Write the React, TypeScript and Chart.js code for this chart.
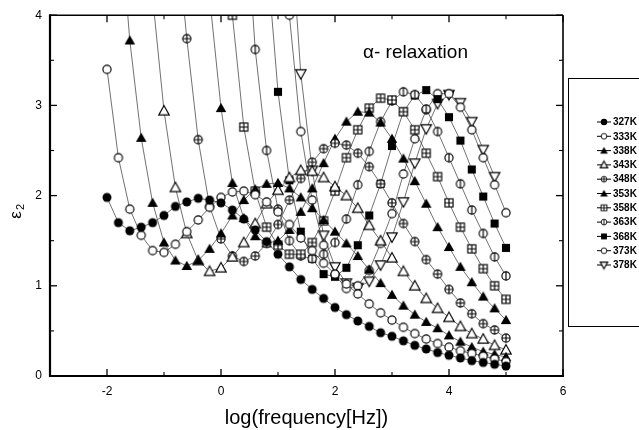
import React, { useEffect, useRef } from 'react';
import { Chart, registerables } from 'chart.js';

Chart.register(...registerables);

// log(frequency[Hz]) sampling points
const logFreq = [
  -2, -1.8, -1.6, -1.4, -1.2, -1.0, -0.8, -0.6, -0.4, -0.2,
  0, 0.2, 0.4, 0.6, 0.8, 1.0, 1.2, 1.4, 1.6, 1.8,
  2.0, 2.2, 2.4, 2.6, 2.8, 3.0, 3.2, 3.4, 3.6, 3.8,
  4.0, 4.2, 4.4, 4.6, 4.8, 5.0,
];

const N = null;
const e327 = [1.98, 1.70, 1.61, 1.65, 1.70, 1.78, 1.88, 1.93, 1.97, 1.95, 1.92, 1.84, 1.74, 1.62, 1.49, 1.35, 1.21, 1.07, 0.96, 0.86, 0.76, 0.68, 0.61, 0.55, 0.48, 0.44, 0.39, 0.34, 0.30, 0.26, 0.23, 0.20, 0.17, 0.15, 0.13, 0.11];
const e333 = [3.40, 2.42, 1.85, 1.56, 1.39, 1.37, 1.46, 1.60, 1.73, 1.87, 1.98, 2.04, 2.05, 2.01, 1.93, 1.82, 1.68, 1.53, 1.39, 1.25, 1.13, 1.02, 0.91, 0.80, 0.70, 0.62, 0.54, 0.47, 0.41, 0.36, 0.32, 0.28, 0.25, 0.22, 0.19, 0.16];
const e338 = [N, 5.3, 3.72, 2.64, 1.92, 1.48, 1.28, 1.22, 1.28, 1.41, 1.58, 1.78, 1.95, 2.07, 2.13, 2.14, 2.08, 1.98, 1.86, 1.73, 1.60, 1.47, 1.33, 1.18, 1.03, 0.90, 0.78, 0.68, 0.60, 0.53, 0.45, 0.38, 0.32, 0.27, 0.24, 0.21];
const e343 = [N, N, N, N, 4.2, 2.94, 2.09, 1.58, 1.28, 1.16, 1.20, 1.32, 1.48, 1.69, 1.91, 2.06, 2.20, 2.28, 2.27, 2.20, 2.10, 2.00, 1.86, 1.67, 1.50, 1.31, 1.16, 1.00, 0.86, 0.75, 0.65, 0.55, 0.47, 0.41, 0.34, 0.29];
const e348 = [N, N, N, N, N, N, 5.05, 3.74, 2.62, 1.88, 1.52, 1.33, 1.27, 1.33, 1.47, 1.68, 1.95, 2.19, 2.37, 2.52, 2.58, 2.56, 2.47, 2.32, 2.13, 1.92, 1.69, 1.49, 1.29, 1.13, 0.96, 0.81, 0.69, 0.58, 0.51, 0.42];
const e353 = [N, N, N, N, N, N, N, N, N, 4.2, 2.97, 2.14, 1.75, 1.55, 1.47, 1.50, 1.62, 1.82, 2.08, 2.36, 2.63, 2.82, 2.93, 2.92, 2.81, 2.63, 2.41, 2.16, 1.91, 1.65, 1.43, 1.21, 1.04, 0.88, 0.75, 0.62];
const e358 = [N, N, N, N, N, N, N, N, N, N, 6.0, 4.0, 2.76, 2.05, 1.65, 1.45, 1.35, 1.35, 1.48, 1.72, 2.05, 2.42, 2.73, 2.97, 3.08, 3.06, 2.93, 2.73, 2.47, 2.21, 1.92, 1.65, 1.41, 1.19, 1.00, 0.85];
const e363 = [N, N, N, N, N, N, N, N, N, N, N, N, 5.5, 3.62, 2.50, 1.85, 1.50, 1.33, 1.30, 1.35, 1.48, 1.74, 2.12, 2.49, 2.82, 3.05, 3.15, 3.12, 2.96, 2.71, 2.42, 2.13, 1.84, 1.58, 1.32, 1.11];
const e368 = [N, N, N, N, N, N, N, N, N, N, N, N, N, N, 4.7, 3.15, 2.17, 1.60, 1.30, 1.13, 1.10, 1.20, 1.45, 1.78, 2.13, 2.55, 2.93, 3.11, 3.17, 3.07, 2.87, 2.61, 2.29, 1.99, 1.69, 1.42];
const e373 = [N, N, N, N, N, N, N, N, N, N, N, N, N, N, N, 6.0, 4.0, 2.71, 1.95, 1.45, 1.12, 0.97, 1.00, 1.17, 1.47, 1.80, 2.24, 2.63, 2.95, 3.13, 3.13, 2.98, 2.73, 2.42, 2.12, 1.81];
const e378 = [N, N, N, N, N, N, N, N, N, N, N, N, N, N, N, N, 5.2, 3.35, 2.28, 1.56, 1.21, 1.03, 0.98, 1.05, 1.23, 1.54, 1.93, 2.36, 2.74, 3.02, 3.12, 3.03, 2.82, 2.51, 2.21, N];

const seriesLabels = ['327K', '333K', '338K', '343K', '348K', '353K', '358K', '363K', '368K', '373K', '378K'];
const seriesValues = [e327, e333, e338, e343, e348, e353, e358, e363, e368, e373, e378];
const markerKinds = ['dot', 'ring', 'tri', 'triOpen', 'plusRing', 'tri', 'gridSq', 'barRing', 'sq', 'ring', 'triDown'];

const xTickValues = [-2, 0, 2, 4, 6];
const xTickLabels = ['-2', '0', '2', '4', '6'];
const yTickValues = [0, 1, 2, 3, 4];
const yTickLabels = ['0', '1', '2', '3', '4'];

const FONT = "'Liberation Sans', Arial, Helvetica, sans-serif";

function makeMarker(kind: string, d: number): HTMLCanvasElement {
  const size = Math.ceil(d) + 3;
  const c = document.createElement('canvas');
  c.width = size;
  c.height = size;
  const g = c.getContext('2d') as CanvasRenderingContext2D;
  const m = size / 2;
  const r = d / 2;
  g.lineWidth = d > 7 ? 1.15 : 0.9;
  g.strokeStyle = '#000';
  g.fillStyle = '#000';
  const circle = (rr: number) => {
    g.beginPath();
    g.arc(m, m, rr, 0, Math.PI * 2);
  };
  const openCircle = () => {
    circle(r - 0.4);
    g.fillStyle = '#fff';
    g.fill();
    g.stroke();
    g.fillStyle = '#000';
  };
  const tri = (down: boolean) => {
    g.beginPath();
    if (!down) {
      g.moveTo(m, m - r);
      g.lineTo(m + r, m + r * 0.78);
      g.lineTo(m - r, m + r * 0.78);
    } else {
      g.moveTo(m, m + r);
      g.lineTo(m + r, m - r * 0.78);
      g.lineTo(m - r, m - r * 0.78);
    }
    g.closePath();
  };
  switch (kind) {
    case 'dot':
      circle(r);
      g.fill();
      break;
    case 'ring':
      openCircle();
      break;
    case 'tri':
      tri(false);
      g.fill();
      break;
    case 'triOpen':
      tri(false);
      g.fillStyle = '#fff';
      g.fill();
      g.stroke();
      break;
    case 'triDown':
      tri(true);
      g.fillStyle = '#fff';
      g.fill();
      g.stroke();
      break;
    case 'plusRing':
      openCircle();
      g.beginPath();
      g.moveTo(m - r + 0.5, m);
      g.lineTo(m + r - 0.5, m);
      g.moveTo(m, m - r + 0.5);
      g.lineTo(m, m + r - 0.5);
      g.stroke();
      break;
    case 'barRing':
      openCircle();
      g.beginPath();
      g.moveTo(m, m - r + 0.3);
      g.lineTo(m, m + r - 0.3);
      g.stroke();
      break;
    case 'gridSq': {
      const h = r * 0.9;
      g.fillStyle = '#fff';
      g.fillRect(m - h, m - h, 2 * h, 2 * h);
      g.strokeRect(m - h, m - h, 2 * h, 2 * h);
      g.beginPath();
      g.moveTo(m - h, m);
      g.lineTo(m + h, m);
      g.moveTo(m, m - h);
      g.lineTo(m, m + h);
      g.stroke();
      break;
    }
    case 'sq': {
      const h = r * 0.9;
      g.fillRect(m - h, m - h, 2 * h, 2 * h);
      break;
    }
  }
  return c;
}

export default function App() {
  const ref = useRef<HTMLCanvasElement | null>(null);

  useEffect(() => {
    const canvas = ref.current;
    if (!canvas) return;

    const isTri = (k: string) => k === 'tri' || k === 'triOpen' || k === 'triDown';
    const bigMarkers = markerKinds.map((k) => makeMarker(k, isTri(k) ? 10.5 : 9));
    const smallMarkers = markerKinds.map((k) => makeMarker(k, isTri(k) ? 7.5 : 6.5));

    const datasets = seriesValues.map((vals, i) => ({
      label: seriesLabels[i],
      data: logFreq
        .map((x, j) => ({ x, y: vals[j] }))
        .filter((p) => p.y !== null) as { x: number; y: number }[],
      borderColor: '#333',
      borderWidth: 0.7,
      pointStyle: bigMarkers[i],
      pointRadius: 5,
      tension: 0,
      clip: 0,
      fill: false,
    }));

    const decor = {
      id: 'decor',
      afterDraw(chart: any) {
        const ctx: CanvasRenderingContext2D = chart.ctx;
        const xs = chart.scales.x;
        const ys = chart.scales.y;
        const { left, right, top, bottom } = chart.chartArea;
        ctx.save();
        ctx.strokeStyle = '#000';
        ctx.fillStyle = '#000';
        const line = (x1: number, y1: number, x2: number, y2: number, w: number) => {
          ctx.lineWidth = w;
          ctx.beginPath();
          ctx.moveTo(x1, y1);
          ctx.lineTo(x2, y2);
          ctx.stroke();
        };
        xTickValues.forEach((v, i) => {
          const px = xs.getPixelForValue(v);
          line(px, bottom, px, bottom - 7, 1.3);
          line(px, top, px, top + 7, 1.3);
          if (i > 0) {
            const mx = xs.getPixelForValue((v + xTickValues[i - 1]) / 2);
            line(mx, bottom, mx, bottom - 4, 1.1);
            line(mx, top, mx, top + 4, 1.1);
          }
        });
        yTickValues.forEach((v, i) => {
          const py = ys.getPixelForValue(v);
          line(left, py, left + 7, py, 1.3);
          line(right, py, right - 7, py, 1.3);
          if (i > 0) {
            const my = ys.getPixelForValue((v + yTickValues[i - 1]) / 2);
            line(left, my, left + 4, my, 1.1);
            line(right, my, right - 4, my, 1.1);
          }
        });
        line(left, top, right, top, 1.6);
        line(right, top, right, bottom, 1.6);
        line(left - 1, bottom, right + 1, bottom, 2.2);
        line(left, top - 1, left, bottom + 1, 2.2);

        ctx.font = `19px ${FONT}`;
        ctx.textAlign = 'left';
        ctx.textBaseline = 'alphabetic';
        ctx.fillText('\u03b1- relaxation', 363, 58);

        ctx.save();
        ctx.translate(16, 212);
        ctx.rotate(-Math.PI / 2);
        ctx.textBaseline = 'middle';
        ctx.textAlign = 'center';
        ctx.font = `17px ${FONT}`;
        ctx.fillText('\u03b5', -3, 0);
        ctx.font = `11px ${FONT}`;
        ctx.fillText('2', 5, 5);
        ctx.restore();

        ctx.lineWidth = 1;
        ctx.strokeRect(568.5, 78.5, 100, 248);
        ctx.font = `bold 10px ${FONT}`;
        ctx.textAlign = 'left';
        ctx.textBaseline = 'middle';
        seriesLabels.forEach((lab, i) => {
          const y = 122 + i * 14.3;
          line(597, y, 611, y, 1);
          const mk = smallMarkers[i];
          ctx.drawImage(mk, 604 - mk.width / 2, y - mk.height / 2);
          ctx.fillText(lab, 613, y + 0.5);
        });
        ctx.restore();
      },
    };

    const chart = new Chart(canvas, {
      type: 'line',
      data: { datasets },
      options: {
        animation: false,
        responsive: false,
        events: [],
        layout: { padding: { left: 0, right: 76, top: 15, bottom: 0 } },
        plugins: {
          legend: { display: false },
          tooltip: { enabled: false },
        },
        scales: {
          x: {
            type: 'linear',
            min: -3,
            max: 6,
            grid: { display: false, drawTicks: false },
            border: { display: false },
            afterBuildTicks: (s: any) => {
              s.ticks = xTickValues.map((v) => ({ value: v }));
            },
            afterFit: (s: any) => {
              s.height = 54;
            },
            ticks: {
              padding: 8,
              color: '#000',
              font: { family: FONT, size: 12 },
              callback: (v: any) => xTickLabels[xTickValues.indexOf(Number(v))] ?? '',
            },
            title: {
              display: true,
              text: 'log(frequency[Hz])',
              color: '#000',
              font: { family: FONT, size: 20 },
              padding: { top: 0, bottom: 0 },
            },
          },
          y: {
            type: 'linear',
            min: 0,
            max: 4,
            grid: { display: false, drawTicks: false },
            border: { display: false },
            afterBuildTicks: (s: any) => {
              s.ticks = yTickValues.map((v) => ({ value: v }));
            },
            afterFit: (s: any) => {
              s.width = 50;
            },
            ticks: {
              padding: 8,
              color: '#000',
              font: { family: FONT, size: 12 },
              callback: (v: any) => yTickLabels[yTickValues.indexOf(Number(v))] ?? '',
            },
          },
        },
      } as any,
      plugins: [decor],
    });

    return () => chart.destroy();
  }, []);

  return (
    <div style={{ position: 'absolute', left: 0, top: 0, width: 639, height: 430, background: '#fff' }}>
      <canvas ref={ref} width={639} height={430} style={{ display: 'block', width: 639, height: 430 }} />
    </div>
  );
}
